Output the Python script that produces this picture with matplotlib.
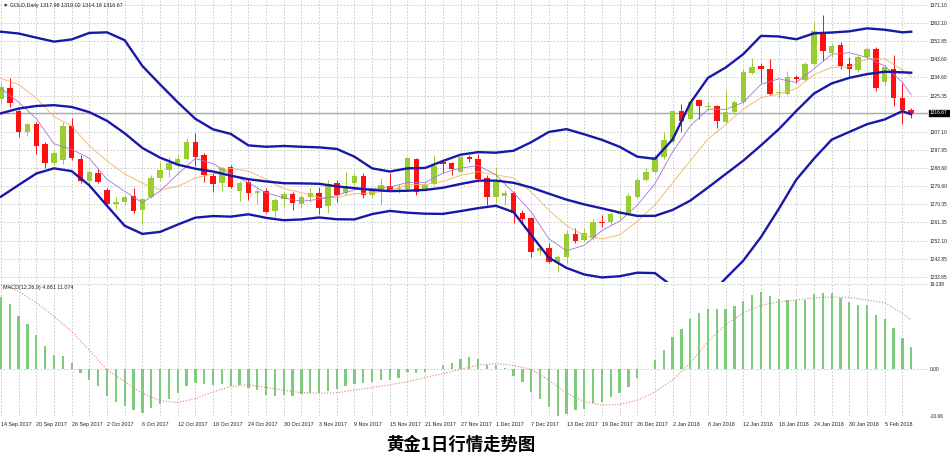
import numpy as np
import matplotlib.pyplot as plt

# GOLD Daily, 14 Sep 2017 - 8 Feb 2018 (one value per bar)
opens = [1323.4, 1329.0, 1317.5, 1307.1, 1311.0, 1300.9, 1291.1, 1292.8, 1310.0, 1293.1,
         1282.2, 1286.4, 1277.6, 1270.6, 1271.4, 1274.6, 1267.5, 1273.9, 1283.5, 1287.7,
         1291.1, 1293.1, 1301.7, 1295.1, 1284.7, 1281.0, 1289.4, 1277.3, 1281.8, 1276.3,
         1277.3, 1267.0, 1272.9, 1275.6, 1270.6, 1274.3, 1276.0, 1269.7, 1281.4, 1276.0,
         1281.4, 1284.7, 1275.1, 1277.7, 1279.7, 1278.0, 1278.2, 1293.3, 1278.2, 1280.7,
         1291.6, 1291.5, 1286.9, 1294.5, 1293.5, 1283.9, 1274.3, 1274.6, 1276.3, 1265.9,
         1263.3, 1247.0, 1248.2, 1241.4, 1243.6, 1255.3, 1252.4, 1253.2, 1261.6, 1261.3,
         1265.4, 1265.9, 1274.3, 1282.7, 1286.9, 1294.5, 1302.1, 1317.5, 1313.3, 1323.1,
         1319.4, 1320.1, 1312.2, 1316.9, 1322.3, 1336.9, 1340.3, 1338.6, 1326.5, 1326.1,
         1334.6, 1333.2, 1341.3, 1357.6, 1346.7, 1350.9, 1341.1, 1338.2, 1344.7, 1348.9,
         1332.4, 1338.8, 1324.3, 1317.98]
highs = [1331.5, 1334.0, 1318.5, 1311.5, 1312.0, 1302.0, 1297.8, 1312.2, 1313.8, 1295.3,
         1287.7, 1288.5, 1278.5, 1274.0, 1275.1, 1278.5, 1273.5, 1285.0, 1291.9, 1294.5,
         1295.3, 1303.7, 1306.3, 1296.5, 1286.0, 1290.0, 1290.3, 1282.2, 1283.0, 1279.3,
         1278.5, 1273.5, 1276.8, 1276.8, 1275.0, 1278.5, 1279.3, 1282.7, 1282.7, 1286.9,
         1286.0, 1286.4, 1279.3, 1283.5, 1286.0, 1280.5, 1294.2, 1294.0, 1282.0, 1295.3,
         1292.8, 1292.0, 1295.3, 1295.3, 1295.8, 1285.2, 1289.1, 1277.7, 1277.0, 1267.5,
         1264.2, 1249.0, 1251.0, 1244.8, 1257.4, 1258.3, 1258.3, 1262.8, 1265.0, 1266.5,
         1268.0, 1276.3, 1283.5, 1288.6, 1296.0, 1307.0, 1318.0, 1321.1, 1323.0, 1323.5,
         1322.0, 1320.6, 1328.0, 1323.0, 1339.0, 1344.2, 1341.6, 1343.6, 1332.0, 1337.9,
         1335.8, 1342.5, 1362.7, 1366.0, 1352.0, 1352.6, 1345.0, 1346.0, 1350.0, 1350.0,
         1341.0, 1345.8, 1331.8, 1319.02]
lows = [1321.0, 1319.5, 1304.2, 1305.0, 1296.0, 1289.0, 1290.3, 1290.6, 1292.8, 1281.3,
        1279.3, 1281.0, 1269.5, 1267.9, 1270.6, 1265.8, 1260.5, 1273.4, 1282.5, 1284.4,
        1289.4, 1292.8, 1290.0, 1281.8, 1276.8, 1277.0, 1278.5, 1272.2, 1272.6, 1270.6,
        1265.8, 1263.8, 1269.2, 1267.5, 1268.5, 1271.8, 1265.5, 1265.9, 1271.8, 1275.1,
        1280.2, 1273.4, 1274.3, 1270.1, 1277.0, 1276.0, 1277.5, 1275.1, 1277.0, 1280.0,
        1286.0, 1285.2, 1286.1, 1292.0, 1281.9, 1270.1, 1271.0, 1270.1, 1260.8, 1261.6,
        1244.0, 1244.8, 1240.9, 1236.4, 1240.6, 1250.7, 1251.5, 1252.4, 1259.0, 1260.0,
        1263.0, 1265.0, 1273.4, 1282.0, 1286.0, 1293.5, 1301.5, 1307.1, 1313.0, 1313.3,
        1318.0, 1308.8, 1311.5, 1316.0, 1321.4, 1336.0, 1331.5, 1325.6, 1324.0, 1325.5,
        1331.5, 1332.5, 1340.5, 1343.0, 1345.0, 1339.0, 1334.6, 1337.5, 1343.5, 1327.8,
        1330.2, 1320.0, 1311.0, 1314.18]
closes = [1329.5, 1321.4, 1306.8, 1311.0, 1300.0, 1291.1, 1296.1, 1310.1, 1293.6, 1282.2,
          1286.7, 1281.8, 1270.6, 1271.7, 1274.3, 1267.0, 1272.9, 1283.5, 1287.7, 1291.1,
          1293.1, 1301.7, 1294.5, 1285.2, 1280.7, 1288.9, 1279.3, 1281.4, 1276.3, 1277.3,
          1266.7, 1272.6, 1275.6, 1270.9, 1273.9, 1276.0, 1268.7, 1280.7, 1275.1, 1279.7,
          1284.7, 1275.1, 1277.3, 1280.2, 1277.7, 1278.5, 1293.6, 1276.8, 1280.2, 1289.8,
          1290.8, 1288.3, 1294.2, 1293.5, 1283.2, 1274.3, 1281.9, 1276.0, 1265.9, 1262.8,
          1246.5, 1248.2, 1241.4, 1243.6, 1255.4, 1252.1, 1256.1, 1261.3, 1261.1, 1265.4,
          1265.8, 1274.6, 1282.7, 1286.9, 1294.5, 1302.9, 1317.5, 1312.7, 1322.3, 1320.1,
          1320.1, 1312.7, 1316.9, 1322.3, 1337.4, 1339.9, 1338.6, 1326.1, 1327.0, 1334.6,
          1333.5, 1341.3, 1357.9, 1348.0, 1350.4, 1340.3, 1338.6, 1345.0, 1348.7, 1329.3,
          1339.9, 1324.3, 1318.1, 1316.67]

# MACD(12,26,9) main value per bar
macd_main = [16.3, 14.7, 12.1, 10.2, 7.7, 5.1, 3.2, 3.0, 1.3, -1.0,
             -2.5, -3.9, -6.2, -7.4, -8.4, -9.2, -10.0, -8.8, -8.0, -6.7,
             -5.5, -3.9, -3.1, -3.3, -3.6, -3.3, -3.9, -3.6, -4.4, -4.8,
             -5.9, -6.2, -5.9, -6.1, -5.7, -5.4, -5.5, -4.9, -4.6, -3.9,
             -3.3, -3.1, -3.0, -2.5, -2.4, -2.1, -0.6, -1.0, -0.6, -0.1,
             0.9, 1.3, 2.2, 2.7, 2.3, 1.0, 0.8, 0.2, -1.6, -2.9,
             -5.2, -6.9, -8.6, -10.66, -10.3, -9.3, -9.0, -7.8, -7.4, -6.3,
             -5.5, -4.0, -2.1, 0.0, 2.1, 4.3, 7.2, 9.1, 11.3, 12.7,
             13.6, 13.6, 13.6, 14.2, 15.5, 16.7, 17.4, 16.6, 15.9, 15.6,
             15.6, 15.6, 16.9, 17.1, 17.1, 16.1, 15.2, 14.4, 14.4, 12.3,
             11.3, 9.3, 7.0, 4.881]

# indicator lines, read every second bar (0, 2, ..., 102) plus the last bar 103
ind_bars = list(range(0, 103, 2)) + [103]
bb_upper = [1357.6, 1356.7, 1354.6, 1352.6, 1353.7, 1357.0, 1357.3, 1353.3, 1340.3, 1331.0,
            1322.0, 1313.6, 1308.3, 1306.0, 1300.2, 1299.5, 1299.9, 1299.5, 1299.2, 1298.4,
            1294.5, 1288.6, 1287.0, 1288.6, 1288.8, 1292.3, 1295.5, 1296.8, 1296.5, 1297.5,
            1301.8, 1307.0, 1308.4, 1305.8, 1303.0, 1299.5, 1294.5, 1293.4, 1303.2, 1321.6,
            1334.3, 1339.5, 1346.3, 1355.5, 1355.2, 1353.8, 1356.8, 1357.2, 1357.8, 1359.3,
            1358.6, 1357.3, 1357.6]
bb_middle = [1316.4, 1318.8, 1320.1, 1320.5, 1319.6, 1317.0, 1312.6, 1306.3, 1298.9, 1294.0,
             1290.5, 1288.4, 1287.0, 1284.9, 1283.1, 1282.0, 1281.1, 1281.0, 1280.8, 1279.5,
             1278.6, 1277.7, 1277.1, 1277.3, 1277.7, 1278.8, 1280.7, 1282.4, 1282.4, 1281.3,
             1278.9, 1275.8, 1272.8, 1270.4, 1268.4, 1266.3, 1264.6, 1264.6, 1267.6, 1272.3,
             1278.9, 1285.7, 1292.5, 1300.2, 1308.3, 1317.6, 1326.4, 1331.5, 1334.3, 1336.2,
             1337.4, 1337.1, 1336.9]
bb_lower = [1274.3, 1280.2, 1286.0, 1288.6, 1287.2, 1280.0, 1269.7, 1259.6, 1255.5, 1256.5,
            1260.2, 1263.7, 1264.5, 1264.2, 1265.4, 1263.6, 1262.4, 1262.8, 1263.8, 1262.9,
            1262.8, 1265.5, 1267.1, 1266.2, 1265.7, 1265.6, 1267.0, 1268.5, 1269.7, 1266.5,
            1254.9, 1243.5, 1238.3, 1235.0, 1233.5, 1234.1, 1235.9, 1235.7, 1229.0, 1223.5,
            1223.5, 1233.0, 1242.0, 1253.9, 1268.0, 1282.9, 1293.5, 1303.1, 1307.0, 1310.9,
            1313.3, 1317.5, 1315.9]
ma_fast = [1329.0, 1322.0, 1313.7, 1301.0, 1298.2, 1293.7, 1283.0, 1277.0, 1271.3, 1277.1,
           1285.7, 1293.6, 1291.0, 1285.7, 1281.3, 1276.2, 1273.7, 1271.9, 1273.0, 1274.9,
           1277.8, 1278.4, 1279.0, 1281.5, 1281.4, 1286.2, 1288.7, 1290.0, 1285.4, 1276.3,
           1266.6, 1253.0, 1247.0, 1249.7, 1257.2, 1261.9, 1269.9, 1280.9, 1296.9, 1310.0,
           1318.5, 1318.4, 1321.9, 1331.0, 1333.8, 1332.0, 1338.9, 1346.2, 1347.0, 1344.6,
           1340.3, 1332.1, 1325.7]
ma_slow = [1334.0, 1331.0, 1324.0, 1314.7, 1310.0, 1299.9, 1292.3, 1285.8, 1281.1, 1277.8,
           1279.4, 1283.8, 1285.7, 1288.6, 1287.2, 1283.2, 1278.4, 1276.3, 1273.9, 1273.8,
           1275.8, 1276.2, 1277.5, 1280.3, 1280.4, 1282.0, 1285.0, 1286.9, 1285.3, 1283.8,
           1276.7, 1267.4, 1259.6, 1254.8, 1252.9, 1255.0, 1261.8, 1270.1, 1281.3, 1292.5,
           1303.4, 1310.7, 1318.5, 1324.3, 1326.1, 1328.9, 1335.9, 1339.7, 1339.8, 1343.8,
           1343.9, 1338.3, 1335.1]
macd_signal = [19.2, 17.6, 15.0, 11.9, 8.5, 4.2, -0.2, -2.9, -5.5, -7.2,
               -7.6, -6.7, -5.2, -4.0, -3.6, -4.2, -4.8, -5.4, -5.5, -5.4,
               -4.8, -4.2, -3.6, -2.9, -1.9, -1.1, -0.1, 0.9, 1.2, 0.8,
               -0.1, -2.5, -5.5, -7.4, -8.2, -8.0, -7.1, -5.2, -2.5, 1.3,
               6.2, 10.0, 12.7, 14.4, 15.2, 15.6, 16.1, 16.3, 16.2, 15.6,
               15.0, 12.6, 11.07]

date_labels = ['14 Sep 2017', '20 Sep 2017', '26 Sep 2017', '2 Oct 2017', '6 Oct 2017',
               '12 Oct 2017', '18 Oct 2017', '24 Oct 2017', '30 Oct 2017', '3 Nov 2017',
               '9 Nov 2017', '15 Nov 2017', '21 Nov 2017', '27 Nov 2017', '1 Dec 2017',
               '7 Dec 2017', '13 Dec 2017', '19 Dec 2017', '26 Dec 2017', '2 Jan 2018',
               '8 Jan 2018', '12 Jan 2018', '18 Jan 2018', '24 Jan 2018', '30 Jan 2018',
               '5 Feb 2018']
price_ticks = [1371.10, 1362.10, 1352.85, 1343.60, 1334.60, 1325.35, 1307.10, 1297.85,
               1288.60, 1279.60, 1270.35, 1261.35, 1252.10, 1242.85, 1233.85]
macd_ticks = [19.238, 0.0, -10.66]
macd_tick_labels = ['19.238', '0.00', '-10.66']

plt.rcParams['font.family'] = ['Liberation Sans', 'DejaVu Sans']

fig = plt.figure(figsize=(9.5, 4.62), dpi=100)
W, H = 950, 462
ax = fig.add_axes([0, 1 - 282 / H, 928 / W, 282 / H])
ax2 = fig.add_axes([0, 1 - 416 / H, 928 / W, 132 / H], sharex=ax)

o = np.array(opens)
h = np.array(highs)
l = np.array(lows)
c = np.array(closes)
x = np.arange(len(c))
up = c >= o
colors = np.where(up, '#9acd32', '#ff1010')

# candles
ax.vlines(x, l, h, colors=colors, lw=0.7, zorder=3)
ax.bar(x, np.maximum(np.abs(c - o), 0.4), width=0.62, bottom=np.minimum(o, c),
       color=colors, lw=0, zorder=4)

# current price line
ax.axhline(c[-1], color='#a8a8a8', lw=1.0, zorder=2)

# moving averages and bollinger bands
ax.plot(ind_bars, ma_slow, color='#f2b45a', lw=0.6, zorder=5)
ax.plot(ind_bars, ma_fast, color='#a474d8', lw=0.6, zorder=5)
for band in (bb_upper, bb_middle, bb_lower):
    ax.plot(ind_bars, band, color='#1818a8', lw=1.7, zorder=6)

ax.set_ylim(1231.2, 1373.625)
ax.set_xlim(-0.11, 104.9)

# MACD panel
ax2.bar(x, macd_main, width=0.26, color='#7ccc7c', lw=0, zorder=3)
ax2.plot(ind_bars, macd_signal, color='#e07a7a', lw=0.8, ls=(0, (1, 1.6)), zorder=4)
ax2.set_ylim(-10.66, 19.238)

grid_kw = dict(color='#c4c4c4', lw=0.6, ls=(0, (2, 2)))
for a in (ax, ax2):
    a.set_xticks(range(0, len(c), 4))
    a.set_xticks(range(2, len(c), 4), minor=True)
    a.grid(True, which='both', **grid_kw)
    a.set_axisbelow(True)
    for s in a.spines.values():
        s.set_visible(False)
    a.yaxis.tick_right()
    a.tick_params(length=0, which='both', labelsize=3.9, colors='#202020')

ax.set_yticks(price_ticks)
ax.set_yticklabels(['%.2f' % p for p in price_ticks])
ax.tick_params(axis='y', pad=1.5, labelsize=3.5)
ax.tick_params(axis='x', labelbottom=False)

ax2.set_yticks(macd_ticks)
ax2.set_yticklabels(macd_tick_labels)
ax2.tick_params(axis='y', pad=1.5, labelsize=3.5)
ax2.set_xticklabels(date_labels, ha='left')
ax2.tick_params(axis='x', pad=4)

fig.text(3 / W, 1 - 5 / H, '\u25bc GOLD,Daily %.2f %.2f %.2f %.2f' % (o[-1], h[-1], l[-1], c[-1]),
         fontsize=3.9, va='center', ha='left', color='#202020')
fig.text(3 / W, 1 - 288 / H, 'MACD(12,26,9) 4.881 11.074',
         fontsize=3.9, va='center', ha='left', color='#202020')
fig.text(930 / W, 1 - 113 / H, '%.2f' % c[-1], fontsize=3.5, va='center', ha='left',
         color='white', bbox=dict(boxstyle='square,pad=0.2', fc='black', ec='black'))

fig.text(461 / W, 1 - 445 / H, '黄金1日行情走势图', fontsize=12.5, fontweight='bold',
         ha='center', va='center', family=['Noto Sans CJK SC', 'DejaVu Sans'])

fig.savefig('out.png', dpi=100, facecolor='white')
